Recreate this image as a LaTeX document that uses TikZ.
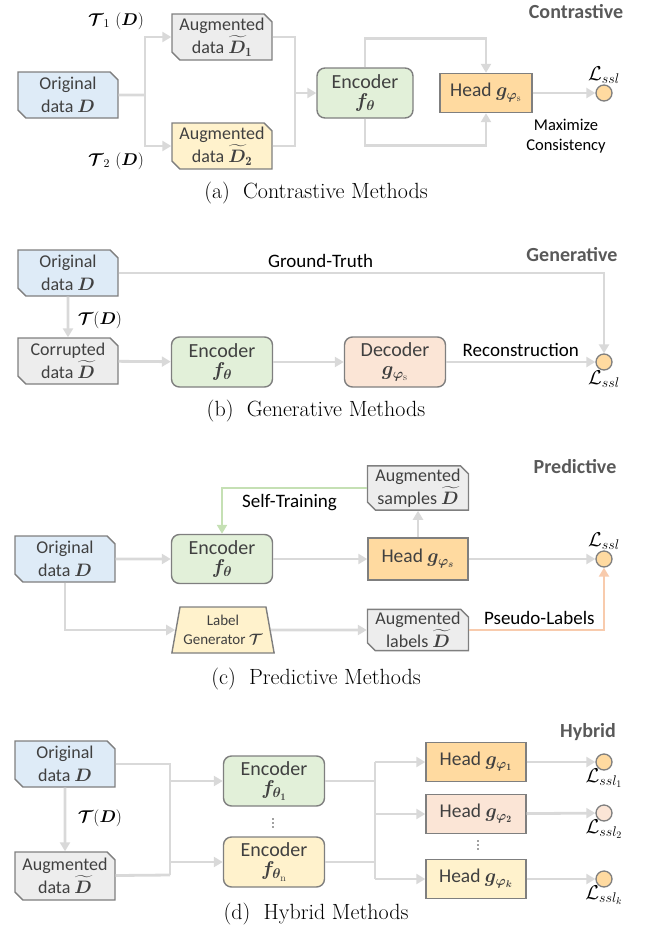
\RequirePackage{fix-cm}
\documentclass[tikz,border=0pt]{standalone}
\usepackage{amsmath,bm}
\usepackage{fontspec}
\setsansfont{Carlito}
\usetikzlibrary{arrows.meta,shapes.misc,shapes.geometric,positioning}

\definecolor{lineg}{HTML}{D9D9D9}
\definecolor{bordg}{HTML}{7F7F7F}
\definecolor{txtg}{HTML}{404040}
\definecolor{titleg}{HTML}{595959}
\definecolor{bluec}{HTML}{DEEBF7}
\definecolor{grayc}{HTML}{EDEDED}
\definecolor{greenc}{HTML}{E2F0D9}
\definecolor{yellowc}{HTML}{FFF2CC}
\definecolor{headc}{HTML}{FFDAA0}
\definecolor{peachc}{HTML}{FBE5D6}
\definecolor{selfg}{HTML}{C5E0B4}
\definecolor{pseudoo}{HTML}{F8CBAD}

\tikzset{
  box/.style={draw=bordg, line width=1.4pt, inner sep=0.5pt, align=center, text=txtg,
    font=\sffamily\fontsize{18}{23}\selectfont},
  databox/.style={box, chamfered rectangle, chamfered rectangle corners={north east, south west},
    chamfered rectangle xsep=5pt, minimum width=100pt, minimum height=46pt, inner ysep=0pt},
  encbox/.style={box, rectangle, rounded corners=8pt, minimum width=101pt, minimum height=50pt,
    font=\sffamily\fontsize{20}{19}\selectfont},
  headbox/.style={box, rectangle, minimum width=100pt, minimum height=39pt,
    font=\sffamily\fontsize{19.5}{20}\selectfont},
  loss/.style={circle, draw=bordg, line width=1.3pt, minimum size=16pt, inner sep=0pt},
  lin/.style={lineg, line width=2.8pt},
  conn/.style={lin, -{Triangle[length=9pt,width=10pt]}},
  lbl/.style={font=\sffamily\fontsize{19}{22}\selectfont, text=black, align=center},
  ttl/.style={font=\sffamily\bfseries\fontsize{20}{22}\selectfont, text=titleg},
  capt/.style={font=\fontsize{22}{24}\selectfont, text=black},
  mth/.style={font=\fontsize{17}{19}\selectfont, text=black},
  lossl/.style={font=\fontsize{20}{22}\selectfont, text=black, inner sep=1pt}
}

\begin{document}
\begin{tikzpicture}[x=1pt, y=-1pt]
  \useasboundingbox (0,0) rectangle (647,938);

  % (a) contrastive
  \node (titleA) [ttl] at (576,12) {Contrastive};
  \node (orgA) [databox, fill=bluec] at (68,95) {Original\\data $\bm D$};
  \node (augA1) [databox, fill=grayc] at (222,37) {Augmented\\data $\widetilde{\bm D}_{\mathbf 1}$};
  \node (augA2) [databox, fill=yellowc] at (222,146) {Augmented\\data $\widetilde{\bm D}_{\mathbf 2}$};
  \node (encA) [encbox, fill=greenc, minimum width=96pt] at (365,93) {Encoder\\$\bm f_{\bm\theta}$};
  \node (headA) [headbox, fill=headc, minimum width=92pt] at (486,93) {Head $\bm g_{\bm\varphi_{\mathrm s}}$};
  \node (lossA) [loss, fill=headc] at (604,93) {};
  \node (lossLA) [lossl, above=0pt of lossA] {$\mathcal L_{ssl}$};
  \node (maxA) [lbl, font=\sffamily\fontsize{16.5}{20}\selectfont] at (566,136) {Maximize\\Consistency};
  \node (tA1) [mth] at (116,21) {$\bm{\mathcal T}_1\ (\bm D)$};
  \node (tA2) [mth] at (116,161) {$\bm{\mathcal T}_2\ (\bm D)$};
  \coordinate (splitA) at (145,95);
  \coordinate (joinA) at (295,93);
  \draw[lin] (orgA) -- (splitA);
  \draw[conn] (splitA) |- (augA1);
  \draw[conn] (splitA) |- (augA2);
  \draw[lin] (augA1) -| (joinA);
  \draw[lin] (augA2) -| (joinA);
  \draw[conn] (joinA) -- (encA);
  \draw[conn] (encA.north) -- ++(0,-29) -| (headA.north);
  \draw[conn] (encA.south) -- ++(0,27) -| (headA.south);
  \draw[conn] (headA) -- (lossA);
  \node (capA) [capt] at (316,193) {(a)\ \ Contrastive Methods};

  % (b) generative
  \node (titleB) [ttl] at (572,255) {Generative};
  \node (orgB) [databox, fill=bluec] at (68,273) {Original\\data $\bm D$};
  \node (corB) [databox, fill=grayc] at (68,361) {Corrupted\\data $\widetilde{\bm D}$};
  \node (encB) [encbox, fill=greenc] at (222,362) {Encoder\\$\bm f_{\bm\theta}$};
  \node (decB) [encbox, fill=peachc] at (395,362) {Decoder\\$\bm g_{\bm\varphi_{\mathrm s}}$};
  \node (lossB) [loss, fill=headc] at (604,362) {};
  \node (lossLB) [lossl, below=-1pt of lossB] {$\mathcal L_{ssl}$};
  \node (tB) [mth] at (100,320) {$\bm{\mathcal T}(\bm D)$};
  \draw[conn] (orgB) -- (corB);
  \draw[conn] (corB) -- (encB);
  \draw[conn] (encB) -- (decB);
  \draw[conn] (decB) -- (lossB) node[lbl, midway, above=1pt] {Reconstruction};
  \draw[conn] (orgB) -| (lossB) node[lbl, pos=0.208, above=1pt] {Ground-Truth};
  \node (capB) [capt] at (316,411) {(b)\ \ Generative Methods};

  % (c) predictive
  \node (titleC) [ttl] at (575,467) {Predictive};
  \node (orgC) [databox, fill=bluec] at (65,559) {Original\\data $\bm D$};
  \node (encC) [encbox, fill=greenc, minimum height=49pt] at (222,559) {Encoder\\$\bm f_{\bm\theta}$};
  \node (genC) [box, trapezium, trapezium left angle=76, trapezium right angle=76, trapezium stretches=true,
    minimum width=103pt, minimum height=46pt, fill=yellowc, font=\sffamily\fontsize{15}{19}\selectfont]
    at (223,630) {Label\\Generator $\bm{\mathcal T}$};
  \node (headC) [headbox, fill=headc, minimum height=42pt] at (418,559) {Head $\bm g_{\bm\varphi_{\bm s}}$};
  \node (augSC) [databox, fill=grayc, minimum width=101pt, minimum height=41pt] at (418,488) {Augmented\\samples $\widetilde{\bm D}$};
  \node (augLC) [databox, fill=grayc, minimum width=101pt, minimum height=41pt] at (418,630) {Augmented\\labels $\widetilde{\bm D}$};
  \node (lossC) [loss, fill=headc] at (604,559) {};
  \node (lossLC) [lossl, above=0pt of lossC] {$\mathcal L_{ssl}$};
  \draw[conn] (orgC) -- (encC);
  \draw[conn] (encC) -- (headC);
  \draw[conn] (headC) -- (lossC);
  \draw[conn] (headC) -- (augSC);
  \draw[conn] (orgC) |- (genC);
  \draw[conn] (genC) -- (augLC);
  \draw[conn, selfg] (augSC) -| (encC) node[lbl, pos=0.267, below=2pt] {Self-Training};
  \draw[conn, pseudoo] (augLC) -| (lossC) node[lbl, pos=0.26, above=1pt] {Pseudo-Labels};
  \node (capC) [capt] at (316,679) {(c)\ \ Predictive Methods};

  % (d) hybrid
  \node (titleD) [ttl] at (588,732) {Hybrid};
  \node (orgD) [databox, fill=bluec] at (65,764) {Original\\data $\bm D$};
  \node (augD) [databox, fill=grayc, minimum height=48pt] at (65,876) {Augmented\\data $\widetilde{\bm D}$};
  \node (tD) [mth] at (100,818) {$\bm{\mathcal T}(\bm D)$};
  \node (encD1) [encbox, fill=greenc] at (274,781) {Encoder\\$\bm f_{\bm\theta_{\mathbf 1}}$};
  \node (encDn) [encbox, fill=yellowc] at (274,862) {Encoder\\$\bm f_{\bm\theta_{\mathrm n}}$};
  \node (headD1) [headbox, fill=headc] at (476,762) {Head $\bm g_{\bm\varphi_{\mathbf 1}}$};
  \node (headD2) [headbox, fill=peachc] at (476,814) {Head $\bm g_{\bm\varphi_{\mathbf 2}}$};
  \node (headDk) [headbox, fill=yellowc] at (476,879) {Head $\bm g_{\bm\varphi_{\bm k}}$};
  \foreach \k in {0,1,2} {
    \fill[txtg] (273,819+4*\k) circle (0.9pt);
    \fill[txtg] (478,841+4*\k) circle (0.9pt);
  }
  \node (lossD1) [loss, fill=headc] at (604,762) {};
  \node (lossD2) [loss, fill=peachc] at (604,813) {};
  \node (lossDk) [loss, fill=headc] at (604,879) {};
  \node (lossLD1) [lossl, below=-3pt of lossD1] {$\mathcal L_{ssl_1}$};
  \node (lossLD2) [lossl, below=-3pt of lossD2] {$\mathcal L_{ssl_2}$};
  \node (lossLDk) [lossl, below=-3pt of lossDk] {$\mathcal L_{ssl_k}$};
  \coordinate (busD) at (170,875);
  \coordinate (busE) at (375,800);
  \draw[conn] (orgD) -- (augD);
  \draw[lin] (orgD) -| (busD);
  \draw[lin] (augD) -- (busD);
  \draw[conn] (busD |- encD1) -- (encD1);
  \draw[conn] (busD |- encDn) -- (encDn);
  \draw[lin] (encD1) -- (encD1 -| busE);
  \draw[lin] (encDn) -- (encDn -| busE);
  \draw[lin] (busE |- headD1) -- (busE |- headDk);
  \foreach \h in {D1,D2,Dk} {
    \draw[conn] (busE |- head\h) -- (head\h);
    \draw[conn] (head\h) -- (loss\h);
  }
  \node (capD) [capt] at (316,914) {(d)\ \ Hybrid Methods};
\end{tikzpicture}
\end{document}
